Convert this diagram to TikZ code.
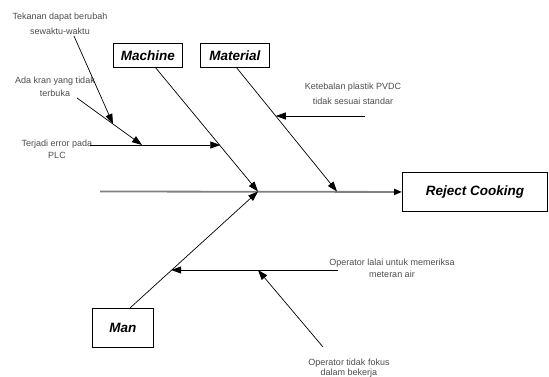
\documentclass[tikz,border=0pt]{standalone}
\usepackage{fontspec}
\setmainfont{Liberation Sans}
\usetikzlibrary{arrows.meta}
\begin{document}
\begin{tikzpicture}[x=1pt,y=-1pt,
  catbox/.style={draw,line width=0.9pt,font=\fontsize{13.5}{15}\selectfont\bfseries\itshape,inner sep=0pt,anchor=north west},
  cause/.style={font=\fontsize{9}{13}\selectfont,text=black!70,align=center,inner sep=0pt},
  arr/.style={line width=0.7pt,-{Triangle[length=10pt,width=7pt]}},
  spinestyle/.style={line width=1.8pt,draw=black!50,-{Triangle[length=8pt,width=6pt,fill=black,color=black]}}]
\useasboundingbox (0,0) rectangle (549,377);
% category boxes
\node[catbox,minimum width=69pt,minimum height=24pt] (machine) at (113,43) {Machine};
\node[catbox,minimum width=69pt,minimum height=24pt] (material) at (200,43) {Material};
\node[catbox,minimum width=61pt,minimum height=39pt] (man) at (92,308) {Man};
\node[catbox,minimum width=145pt,minimum height=39pt] (reject) at (402,172) {Reject Cooking};
% coordinates
\coordinate (tail) at (100,191.5);
\coordinate (head) at (258,191.5);
\coordinate (matend) at (337,191.5);
\coordinate (machtop) at (155,67);
\coordinate (mattop) at (236,67);
\coordinate (mantop) at (130,308);
\coordinate (onmat) at (275.8,116);
\coordinate (ketstart) at (365,116);
\coordinate (onmach) at (220.3,145);
\coordinate (plcstart) at (90,145);
\coordinate (onplc) at (142,145);
\coordinate (kranstart) at (77,98);
\coordinate (onkran) at (113,124);
\coordinate (tekstart) at (74,36);
\coordinate (onman) at (171.2,270);
\coordinate (lalaistart) at (338,270);
\coordinate (onlalai) at (258,270);
\coordinate (fokusstart) at (323,347);
% cause texts
\node[cause,font=\fontsize{9}{15}\selectfont] (tekanan) at (60,24) {Tekanan dapat berubah\\sewaktu-waktu};
\node[cause] (kran) at (55,87) {Ada kran yang tidak\\terbuka};
\node[cause,font=\fontsize{9}{12}\selectfont] (plc) at (57,149) {Terjadi error pada\\PLC};
\node[cause,font=\fontsize{9}{15.5}\selectfont] (ketebalan) at (353,94) {Ketebalan plastik PVDC\\tidak sesuai standar};
\node[cause,font=\fontsize{9}{11.7}\selectfont] (lalai) at (392,268) {Operator lalai untuk memeriksa\\meteran air};
\node[cause,font=\fontsize{9}{10}\selectfont] (fokus) at (349,368) {Operator tidak fokus\\dalam bekerja};
% spine
\draw[spinestyle] (tail) -- (reject.west);
% bones
\draw[arr] (machtop) -- (head);
\draw[arr] (mattop) -- (matend);
\draw[arr] (mantop) -- (head);
% causes
\draw[arr] (ketstart) -- (onmat);
\draw[arr] (plcstart) -- (onmach);
\draw[arr] (kranstart) -- (onplc);
\draw[arr] (tekstart) -- (onkran);
\draw[arr] (lalaistart) -- (onman);
\draw[arr] (fokusstart) -- (onlalai);
\end{tikzpicture}
\end{document}
